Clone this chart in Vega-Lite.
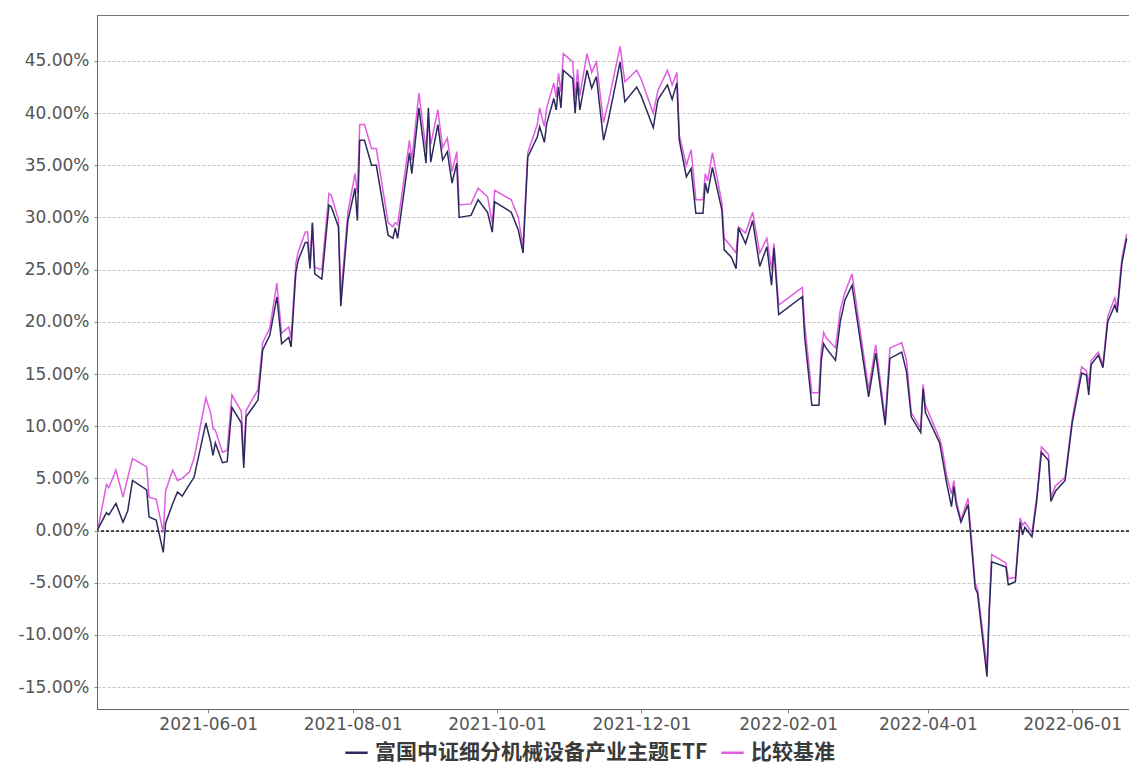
{
  "$schema": "https://vega.github.io/schema/vega-lite/v6.json",
  "width": 1032,
  "height": 694,
  "autosize": {"type": "none"},
  "padding": {"left": 97, "top": 15, "right": 0, "bottom": 60},
  "background": "white",
  "config": {
    "view": {"stroke": "#777", "strokeWidth": 1},
    "axis": {
      "labelFont": "DejaVu Sans",
      "labelFontSize": 17,
      "labelColor": "#555",
      "domainColor": "#666",
      "tickColor": "#888",
      "titleFont": "DejaVu Sans"
    }
  },
  "data": {
    "values": [
      {"date": "2021-04-15", "f": 0.0, "b": -0.3},
      {"date": "2021-04-19", "f": 1.7, "b": 4.4},
      {"date": "2021-04-20", "f": 1.5, "b": 4.1},
      {"date": "2021-04-23", "f": 2.6, "b": 5.8},
      {"date": "2021-04-26", "f": 0.8, "b": 3.2},
      {"date": "2021-04-28", "f": 1.9, "b": 5.1},
      {"date": "2021-04-30", "f": 4.8, "b": 6.9},
      {"date": "2021-05-06", "f": 3.9, "b": 6.1},
      {"date": "2021-05-07", "f": 1.3, "b": 3.2},
      {"date": "2021-05-10", "f": 1.0, "b": 3.0},
      {"date": "2021-05-13", "f": -2.1, "b": -0.2},
      {"date": "2021-05-14", "f": 0.7, "b": 3.8},
      {"date": "2021-05-17", "f": 2.6, "b": 5.8},
      {"date": "2021-05-19", "f": 3.7, "b": 4.8},
      {"date": "2021-05-21", "f": 3.3, "b": 5.0},
      {"date": "2021-05-24", "f": 4.4, "b": 5.6},
      {"date": "2021-05-26", "f": 5.1, "b": 6.9},
      {"date": "2021-05-31", "f": 10.3, "b": 12.7},
      {"date": "2021-06-02", "f": 8.5, "b": 11.3},
      {"date": "2021-06-03", "f": 7.2, "b": 9.8},
      {"date": "2021-06-04", "f": 8.4, "b": 9.6},
      {"date": "2021-06-07", "f": 6.5, "b": 7.5},
      {"date": "2021-06-09", "f": 6.6, "b": 7.7},
      {"date": "2021-06-11", "f": 11.8, "b": 13.0},
      {"date": "2021-06-15", "f": 10.3, "b": 11.4},
      {"date": "2021-06-16", "f": 6.0, "b": 6.8},
      {"date": "2021-06-17", "f": 10.9, "b": 11.5},
      {"date": "2021-06-22", "f": 12.5, "b": 13.5},
      {"date": "2021-06-24", "f": 17.3, "b": 18.0},
      {"date": "2021-06-27", "f": 18.7, "b": 19.4},
      {"date": "2021-06-30", "f": 22.4, "b": 23.7},
      {"date": "2021-07-02", "f": 17.9, "b": 18.9},
      {"date": "2021-07-05", "f": 18.5, "b": 19.5},
      {"date": "2021-07-06", "f": 17.6, "b": 18.4},
      {"date": "2021-07-08", "f": 24.7, "b": 25.6},
      {"date": "2021-07-09", "f": 25.9, "b": 26.7},
      {"date": "2021-07-12", "f": 27.6, "b": 28.6},
      {"date": "2021-07-13", "f": 27.6, "b": 28.6},
      {"date": "2021-07-14", "f": 25.1, "b": 25.3},
      {"date": "2021-07-15", "f": 29.5, "b": 29.5},
      {"date": "2021-07-16", "f": 24.6, "b": 25.2},
      {"date": "2021-07-19", "f": 24.1, "b": 25.0},
      {"date": "2021-07-22", "f": 31.2, "b": 32.3},
      {"date": "2021-07-23", "f": 31.0, "b": 32.1},
      {"date": "2021-07-26", "f": 29.1, "b": 29.8},
      {"date": "2021-07-27", "f": 21.5, "b": 22.4},
      {"date": "2021-07-30", "f": 29.7, "b": 30.5},
      {"date": "2021-07-31", "f": 30.7, "b": 31.7},
      {"date": "2021-08-02", "f": 32.8, "b": 34.2},
      {"date": "2021-08-03", "f": 29.7, "b": 32.3},
      {"date": "2021-08-04", "f": 37.4, "b": 38.9},
      {"date": "2021-08-06", "f": 37.4, "b": 38.9},
      {"date": "2021-08-09", "f": 35.0, "b": 36.6},
      {"date": "2021-08-11", "f": 35.0, "b": 36.6},
      {"date": "2021-08-16", "f": 28.3, "b": 29.5},
      {"date": "2021-08-18", "f": 28.0, "b": 29.1},
      {"date": "2021-08-19", "f": 29.0, "b": 29.5},
      {"date": "2021-08-20", "f": 28.0, "b": 29.3},
      {"date": "2021-08-25", "f": 36.2, "b": 37.4},
      {"date": "2021-08-26", "f": 34.2, "b": 35.5},
      {"date": "2021-08-29", "f": 40.5, "b": 41.9},
      {"date": "2021-09-01", "f": 35.2, "b": 36.5},
      {"date": "2021-09-02", "f": 40.5, "b": 39.5},
      {"date": "2021-09-03", "f": 35.3, "b": 37.0},
      {"date": "2021-09-06", "f": 38.9, "b": 40.3},
      {"date": "2021-09-08", "f": 35.5, "b": 36.7},
      {"date": "2021-09-10", "f": 36.3, "b": 37.6},
      {"date": "2021-09-12", "f": 33.3, "b": 34.4},
      {"date": "2021-09-14", "f": 35.2, "b": 36.3},
      {"date": "2021-09-15", "f": 30.0, "b": 31.2},
      {"date": "2021-09-20", "f": 30.2, "b": 31.3},
      {"date": "2021-09-23", "f": 31.7, "b": 32.8},
      {"date": "2021-09-27", "f": 30.5, "b": 32.0},
      {"date": "2021-09-29", "f": 28.6, "b": 29.4},
      {"date": "2021-09-30", "f": 31.5, "b": 32.6},
      {"date": "2021-10-07", "f": 30.5, "b": 31.7},
      {"date": "2021-10-10", "f": 28.8, "b": 30.0},
      {"date": "2021-10-12", "f": 26.6, "b": 27.2},
      {"date": "2021-10-14", "f": 35.8, "b": 36.2},
      {"date": "2021-10-18", "f": 37.7, "b": 38.9},
      {"date": "2021-10-19", "f": 38.7, "b": 40.5},
      {"date": "2021-10-21", "f": 37.2, "b": 38.7},
      {"date": "2021-10-22", "f": 39.0, "b": 40.5},
      {"date": "2021-10-25", "f": 41.4, "b": 42.9},
      {"date": "2021-10-26", "f": 40.3, "b": 41.5},
      {"date": "2021-10-27", "f": 42.5, "b": 43.8},
      {"date": "2021-10-28", "f": 40.5, "b": 42.0},
      {"date": "2021-10-29", "f": 44.1, "b": 45.7},
      {"date": "2021-11-02", "f": 43.3, "b": 44.9},
      {"date": "2021-11-03", "f": 40.0, "b": 41.3},
      {"date": "2021-11-04", "f": 43.0, "b": 44.2},
      {"date": "2021-11-05", "f": 40.3, "b": 41.7},
      {"date": "2021-11-08", "f": 44.1, "b": 45.7},
      {"date": "2021-11-10", "f": 42.4, "b": 43.9},
      {"date": "2021-11-12", "f": 43.5, "b": 44.9},
      {"date": "2021-11-15", "f": 37.4, "b": 39.1},
      {"date": "2021-11-17", "f": 39.3, "b": 41.0},
      {"date": "2021-11-22", "f": 44.9, "b": 46.4},
      {"date": "2021-11-24", "f": 41.1, "b": 43.0},
      {"date": "2021-11-29", "f": 42.5, "b": 44.1},
      {"date": "2021-12-01", "f": 41.6, "b": 43.2},
      {"date": "2021-12-06", "f": 38.6, "b": 40.0},
      {"date": "2021-12-08", "f": 41.3, "b": 42.2},
      {"date": "2021-12-12", "f": 42.7, "b": 44.1},
      {"date": "2021-12-14", "f": 41.3, "b": 42.7},
      {"date": "2021-12-16", "f": 42.9, "b": 43.9},
      {"date": "2021-12-17", "f": 37.4, "b": 37.9},
      {"date": "2021-12-20", "f": 33.9, "b": 35.0},
      {"date": "2021-12-22", "f": 34.7, "b": 36.5},
      {"date": "2021-12-24", "f": 30.4, "b": 31.7},
      {"date": "2021-12-27", "f": 30.4, "b": 31.7},
      {"date": "2021-12-28", "f": 33.3, "b": 34.2},
      {"date": "2021-12-29", "f": 32.3, "b": 33.5},
      {"date": "2021-12-31", "f": 34.8, "b": 36.2},
      {"date": "2022-01-04", "f": 30.7, "b": 31.4},
      {"date": "2022-01-05", "f": 26.9, "b": 28.0},
      {"date": "2022-01-08", "f": 26.2, "b": 27.2},
      {"date": "2022-01-10", "f": 25.1, "b": 26.6},
      {"date": "2022-01-11", "f": 29.0, "b": 29.1},
      {"date": "2022-01-14", "f": 27.5, "b": 28.5},
      {"date": "2022-01-17", "f": 29.7, "b": 30.5},
      {"date": "2022-01-20", "f": 25.3, "b": 26.6},
      {"date": "2022-01-23", "f": 27.2, "b": 28.0},
      {"date": "2022-01-25", "f": 23.5, "b": 25.0},
      {"date": "2022-01-26", "f": 27.1, "b": 27.5},
      {"date": "2022-01-28", "f": 20.7, "b": 21.6},
      {"date": "2022-02-07", "f": 22.4, "b": 23.3},
      {"date": "2022-02-08", "f": 18.5, "b": 19.7},
      {"date": "2022-02-11", "f": 12.0, "b": 13.2},
      {"date": "2022-02-14", "f": 12.0, "b": 13.2},
      {"date": "2022-02-15", "f": 16.3, "b": 17.3},
      {"date": "2022-02-16", "f": 17.9, "b": 19.0},
      {"date": "2022-02-17", "f": 17.5, "b": 18.5},
      {"date": "2022-02-21", "f": 16.3, "b": 17.5},
      {"date": "2022-02-23", "f": 20.0, "b": 21.1},
      {"date": "2022-02-25", "f": 22.1, "b": 22.8},
      {"date": "2022-02-28", "f": 23.5, "b": 24.6},
      {"date": "2022-03-07", "f": 12.8, "b": 13.5},
      {"date": "2022-03-10", "f": 17.0, "b": 17.8},
      {"date": "2022-03-14", "f": 10.1, "b": 10.6},
      {"date": "2022-03-16", "f": 16.5, "b": 17.5},
      {"date": "2022-03-21", "f": 17.1, "b": 18.0},
      {"date": "2022-03-23", "f": 15.2, "b": 16.3},
      {"date": "2022-03-25", "f": 10.9, "b": 11.3},
      {"date": "2022-03-29", "f": 9.4, "b": 9.8},
      {"date": "2022-03-30", "f": 13.6, "b": 14.0},
      {"date": "2022-03-31", "f": 11.3, "b": 12.0},
      {"date": "2022-04-06", "f": 8.4, "b": 8.8},
      {"date": "2022-04-07", "f": 7.1, "b": 8.0},
      {"date": "2022-04-09", "f": 4.5, "b": 5.2},
      {"date": "2022-04-11", "f": 2.3, "b": 3.5},
      {"date": "2022-04-12", "f": 4.2, "b": 4.8},
      {"date": "2022-04-13", "f": 2.5, "b": 2.9},
      {"date": "2022-04-15", "f": 0.8, "b": 1.0},
      {"date": "2022-04-18", "f": 2.5, "b": 3.1},
      {"date": "2022-04-21", "f": -5.5, "b": -5.0},
      {"date": "2022-04-22", "f": -6.0, "b": -5.6},
      {"date": "2022-04-26", "f": -14.0, "b": -13.1},
      {"date": "2022-04-27", "f": -7.6, "b": -7.0},
      {"date": "2022-04-28", "f": -3.0, "b": -2.3},
      {"date": "2022-05-04", "f": -3.5, "b": -3.1},
      {"date": "2022-05-05", "f": -5.2, "b": -4.6},
      {"date": "2022-05-08", "f": -4.9, "b": -4.5},
      {"date": "2022-05-10", "f": 0.8, "b": 1.2},
      {"date": "2022-05-11", "f": -0.4, "b": 0.5},
      {"date": "2022-05-12", "f": 0.3, "b": 0.8},
      {"date": "2022-05-15", "f": -0.6, "b": -0.2},
      {"date": "2022-05-17", "f": 2.8, "b": 3.2},
      {"date": "2022-05-19", "f": 7.5, "b": 8.0},
      {"date": "2022-05-22", "f": 6.7, "b": 7.3},
      {"date": "2022-05-23", "f": 2.8, "b": 3.2},
      {"date": "2022-05-25", "f": 3.8, "b": 4.3},
      {"date": "2022-05-29", "f": 4.8, "b": 5.1},
      {"date": "2022-06-01", "f": 10.3, "b": 10.7},
      {"date": "2022-06-05", "f": 15.1, "b": 15.7},
      {"date": "2022-06-07", "f": 14.9, "b": 15.3},
      {"date": "2022-06-08", "f": 13.0, "b": 14.0},
      {"date": "2022-06-09", "f": 15.9, "b": 16.3},
      {"date": "2022-06-12", "f": 16.8, "b": 17.1},
      {"date": "2022-06-14", "f": 15.6, "b": 15.9},
      {"date": "2022-06-16", "f": 20.0, "b": 20.5},
      {"date": "2022-06-19", "f": 21.6, "b": 22.3},
      {"date": "2022-06-20", "f": 20.9, "b": 21.3},
      {"date": "2022-06-22", "f": 25.6, "b": 26.1},
      {"date": "2022-06-24", "f": 28.0, "b": 28.4}
    ]
  },
  "layer": [
    {
      "mark": {"type": "rule", "color": "#555", "strokeDash": [3, 2], "strokeWidth": 1},
      "encoding": {"y": {"datum": 0, "type": "quantitative", "scale": {"domain": [-17.1, 49.4]}}}
    },
    {
      "transform": [{"fold": ["b", "f"], "as": ["s", "v"]}],
      "mark": {"type": "line", "strokeWidth": 1.5, "clip": true},
      "encoding": {
        "x": {
          "field": "date",
          "type": "temporal",
          "scale": {"type": "utc", "domain": [{"year": 2021, "month": 4, "date": 15, "utc": true}, {"year": 2022, "month": 6, "date": 25, "utc": true}]},
          "axis": {
            "title": null,
            "values": [
              {"year": 2021, "month": 6, "date": 1, "utc": true},
              {"year": 2021, "month": 8, "date": 1, "utc": true},
              {"year": 2021, "month": 10, "date": 1, "utc": true},
              {"year": 2021, "month": 12, "date": 1, "utc": true},
              {"year": 2022, "month": 2, "date": 1, "utc": true},
              {"year": 2022, "month": 4, "date": 1, "utc": true},
              {"year": 2022, "month": 6, "date": 1, "utc": true}
            ],
            "format": "%Y-%m-%d",
            "grid": false,
            "tickSize": 4,
            "labelPadding": 3,
            "labelFontSize": 17,
            "labelFlush": false,
            "labelOverlap": false
          }
        },
        "y": {
          "field": "v",
          "type": "quantitative",
          "scale": {"domain": [-17.1, 49.4], "nice": false, "zero": false},
          "axis": {
            "title": null,
            "values": [-15, -10, -5, 0, 5, 10, 15, 20, 25, 30, 35, 40, 45],
            "labelExpr": "(datum.value < 0 ? '-' : '') + format(abs(datum.value), '.2f') + '%'",
            "grid": true,
            "gridColor": "#c4c4c4",
            "gridDash": [3, 2],
            "tickSize": 3,
            "labelPadding": 5
          }
        },
        "color": {
          "field": "s",
          "type": "nominal",
          "sort": ["f", "b"],
          "scale": {"domain": ["f", "b"], "range": ["#2a2a5c", "#e05ce0"]},
          "legend": {
            "title": null,
            "orient": "none",
            "direction": "horizontal",
            "legendX": 247,
            "legendY": 725,
            "padding": 0,
            "symbolType": "stroke",
            "symbolSize": 500,
            "symbolStrokeWidth": 2.5,
            "labelFont": "Noto Sans CJK SC",
            "labelFontSize": 21,
            "labelFontWeight": "bold",
            "labelColor": "#3a3a3a",
            "labelLimit": 600,
            "labelOffset": 6,
            "columnPadding": 8,
            "labelExpr": "datum.label === 'f' ? '富国中证细分机械设备产业主题ETF' : '比较基准'"
          }
        },
        "order": {"field": "s", "sort": "ascending"}
      }
    }
  ]
}
